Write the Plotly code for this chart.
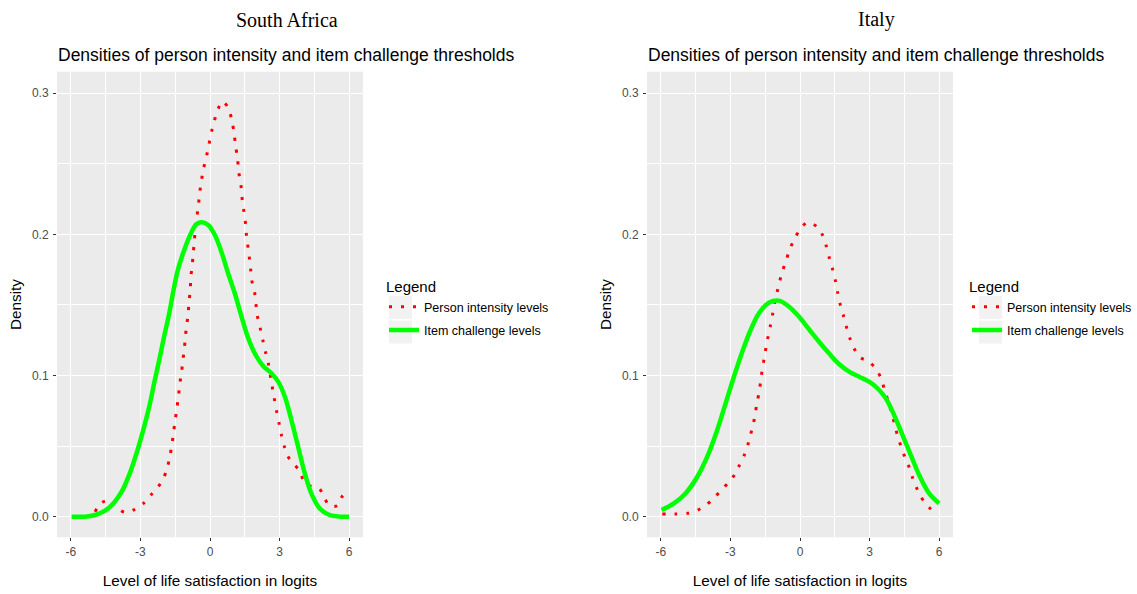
import plotly.graph_objects as go

# ---------------- data ----------------
sa_person_x = [-4.96, -4.68, -4.27, -4.0, -3.66, -3.24, -2.85, -2.55, -2.26, -2.02, -1.85, -1.73, -1.64, -1.57,
               -1.50, -1.43, -1.36, -1.30, -1.23, -1.17, -1.10, -1.06, -1.0, -0.94, -0.90, -0.85, -0.83, -0.77,
               -0.73, -0.68, -0.64, -0.57, -0.50, -0.44, -0.37, -0.28, -0.15, -0.05, 0.06, 0.18, 0.32, 0.54,
               0.81, 0.94, 1.04, 1.10, 1.19, 1.23, 1.33, 1.37, 1.44, 1.52, 1.56, 1.62, 1.69, 1.75, 1.80, 1.92,
               1.98, 2.04, 2.16, 2.28, 2.39, 2.51, 2.68, 2.77, 2.87, 2.98, 3.08, 3.20, 3.35, 3.61, 3.87, 4.04,
               4.35, 4.72, 4.92, 5.16, 5.49, 5.71, 5.98]
sa_person_y = [0.0035, 0.0099, 0.0118, 0.0064, 0.0030, 0.0052, 0.0097, 0.0154, 0.0206, 0.0267, 0.0343, 0.0428,
               0.0515, 0.0600, 0.0685, 0.0765, 0.0855, 0.0945, 0.1020, 0.1110, 0.1200, 0.1280, 0.1360, 0.1446,
               0.1530, 0.1610, 0.1700, 0.1770, 0.1860, 0.1940, 0.2030, 0.2120, 0.2207, 0.2300, 0.2380, 0.2466,
               0.2554, 0.2634, 0.2724, 0.2800, 0.2877, 0.2943, 0.2890, 0.2807, 0.2720, 0.2630, 0.2540, 0.2450,
               0.2360, 0.2275, 0.2188, 0.2100, 0.2015, 0.1935, 0.1845, 0.1758, 0.1675, 0.1595, 0.1510, 0.1425,
               0.1340, 0.1250, 0.1170, 0.1090, 0.0924, 0.0839, 0.0751, 0.0661, 0.0579, 0.0500, 0.0430, 0.0373,
               0.0326, 0.0255, 0.0215, 0.0198, 0.0139, 0.0076, 0.0078, 0.0146, 0.0200]

sa_item_x = [-5.97, -5.4, -4.96, -4.53, -4.17, -3.81, -3.46, -3.17, -2.88, -2.62, -2.41, -2.19, -1.98, -1.76,
             -1.59, -1.40, -1.10, -0.80, -0.58, -0.34, -0.08, 0.21, 0.49, 0.78, 1.07, 1.36, 1.65, 1.93, 2.29,
             2.65, 2.94, 3.23, 3.51, 3.80, 4.09, 4.37, 4.73, 5.16, 5.60, 6.0]
sa_item_y = [0.0, 0.0, 0.0012, 0.0043, 0.0094, 0.0177, 0.0307, 0.0449, 0.0614, 0.0780, 0.0945, 0.1110, 0.1276,
             0.1440, 0.1590, 0.1740, 0.1895, 0.2015, 0.2074, 0.2086, 0.2067, 0.1996, 0.1878, 0.1725, 0.1583,
             0.1417, 0.1264, 0.1158, 0.1068, 0.1016, 0.0957, 0.0850, 0.0685, 0.0496, 0.0307, 0.0165, 0.0059,
             0.0012, 0.0, 0.0]

it_person_x = [-5.94, -5.37, -4.86, -4.43, -4.09, -3.74, -3.42, -3.09, -2.82, -2.63, -2.42, -2.26, -2.13, -2.01,
               -1.93, -1.84, -1.74, -1.67, -1.58, -1.50, -1.40, -1.29, -1.19, -1.11, -0.99, -0.88, -0.75, -0.59,
               -0.43, -0.22, 0.03, 0.33, 0.75, 0.99, 1.14, 1.27, 1.41, 1.53, 1.63, 1.74, 1.88, 2.0, 2.14, 2.33,
               2.59, 3.01, 3.29, 3.50, 3.65, 3.81, 3.96, 4.09, 4.20, 4.36, 4.53, 4.71, 4.85, 5.02, 5.21, 5.47,
               5.78]
it_person_y = [0.0019, 0.0019, 0.0024, 0.0045, 0.0078, 0.0128, 0.0184, 0.0241, 0.0298, 0.0359, 0.0430, 0.0503,
               0.0583, 0.0659, 0.0735, 0.0817, 0.0907, 0.0997, 0.1087, 0.1167, 0.1257, 0.1344, 0.1427, 0.1505,
               0.1588, 0.1665, 0.1743, 0.1819, 0.1900, 0.1973, 0.2043, 0.2086, 0.2053, 0.1989, 0.1914, 0.1831,
               0.1751, 0.1670, 0.1583, 0.1500, 0.1422, 0.1347, 0.1269, 0.1193, 0.1129, 0.1094, 0.1044, 0.0980,
               0.0895, 0.0815, 0.0732, 0.0650, 0.0579, 0.0496, 0.0420, 0.0350, 0.0279, 0.0208, 0.0142, 0.0083,
               0.0033]

it_item_x = [-5.97, -5.44, -4.94, -4.43, -4.0, -3.57, -3.21, -2.85, -2.49, -2.13, -1.77, -1.34, -0.91, -0.47,
             -0.04, 0.39, 0.82, 1.25, 1.68, 2.12, 2.55, 2.98, 3.34, 3.70, 4.06, 4.42, 4.78, 5.14, 5.57, 6.0]
it_item_y = [0.0047, 0.0094, 0.0165, 0.0283, 0.0425, 0.0614, 0.0803, 0.0992, 0.1169, 0.1323, 0.1441, 0.1517,
             0.1531, 0.1488, 0.1417, 0.1328, 0.1240, 0.1158, 0.1082, 0.1028, 0.0992, 0.0957, 0.0910, 0.0839,
             0.0720, 0.0579, 0.0437, 0.0295, 0.0165, 0.0094]

x_ticks = [-6, -3, 0, 3, 6]
y_ticks = [0.0, 0.1, 0.2, 0.3]
panel_titles = ["South Africa", "Italy"]
subtitle = "Densities of person intensity and item challenge thresholds"
series_names = ["Person intensity levels", "Item challenge levels"]

# ---------------- figure ----------------
W, H = 1137, 594
SANS = "Liberation Sans, Arial, sans-serif"
SERIF = "Liberation Serif, Times New Roman, serif"
RED = "#FF0000"
GREEN = "#00FF00"

fig = go.Figure()

panels = [
    ("x", "y", "legend", sa_person_x, sa_person_y, sa_item_x, sa_item_y),
    ("x2", "y2", "legend2", it_person_x, it_person_y, it_item_x, it_item_y),
]
for xa, ya, lg, px, py, ix, iy in panels:
    fig.add_trace(go.Scatter(x=px, y=py, mode="lines", name=series_names[0], xaxis=xa, yaxis=ya,
                             legend=lg, legendgroup=lg + "a",
                             line=dict(color=RED, width=3, dash="3px,9px", shape="spline", smoothing=0.8),
                             hoverinfo="skip"))
    fig.add_trace(go.Scatter(x=ix, y=iy, mode="lines", name=series_names[1], xaxis=xa, yaxis=ya,
                             legend=lg, legendgroup=lg + "b",
                             line=dict(color=GREEN, width=4.5, shape="spline", smoothing=1.0),
                             hoverinfo="skip"))

x_domains = [[57 / W, 363 / W], [647 / W, 953 / W]]
y_domain = [1 - 537.3 / H, 1 - 71.7 / H]

axis_common = dict(
    showline=False, zeroline=False, showgrid=True, gridcolor="white", gridwidth=1.1,
    ticks="outside", ticklen=3, tickwidth=1, tickcolor="#333333",
    tickfont=dict(family=SANS, size=12, color="#4D4D4D"),
)

for i, (xa, ya) in enumerate([("xaxis", "yaxis"), ("xaxis2", "yaxis2")]):
    xname = "x" if i == 0 else "x2"
    yname = "y" if i == 0 else "y2"
    fig.layout[xa] = dict(
        axis_common, domain=x_domains[i], anchor=yname, range=[-6.6, 6.6],
        tickmode="array", tickvals=x_ticks, ticktext=[str(v) for v in x_ticks],
        minor=dict(tickvals=[-4.5, -1.5, 1.5, 4.5], showgrid=True, gridcolor="white", gridwidth=0.55, ticks=""),
        title=dict(text="Level of life satisfaction in logits", font=dict(family=SANS, size=15.3, color="black"),
                   standoff=17),
    )
    fig.layout[ya] = dict(
        axis_common, domain=y_domain, anchor=xname, range=[-0.0146, 0.3153],
        tickmode="array", tickvals=y_ticks, ticktext=["%.1f" % v for v in y_ticks],
        minor=dict(tickvals=[0.05, 0.15, 0.25], showgrid=True, gridcolor="white", gridwidth=0.55, ticks=""),
        title=dict(text="Density", font=dict(family=SANS, size=15.3, color="black"), standoff=6),
        ticklabelstandoff=2,
    )

legend_common = dict(
    title=dict(text="Legend", font=dict(family=SANS, size=15, color="black")),
    font=dict(family=SANS, size=12.5, color="black"),
    bgcolor="rgba(0,0,0,0)", yanchor="top", y=1 - 272.5 / H,
    tracegroupgap=4, itemwidth=30,
)
fig.update_layout(
    legend=dict(legend_common, x=384 / W, xanchor="left"),
    legend2=dict(legend_common, x=1.0, xanchor="right"),
)

# grey key backgrounds (ggplot legend.key)
shapes = []
for lx in (389, 979):
    for ky in (296, 320.5):
        shapes.append(dict(type="rect", xref="paper", yref="paper",
                           x0=lx / W, x1=(lx + 23) / W, y0=1 - (ky + 23) / H, y1=1 - ky / H,
                           fillcolor="#F2F2F2", line=dict(width=0), layer="below"))

annotations = []
for i, t in enumerate(panel_titles):
    cx = [287, 876][i]
    annotations.append(dict(text=t, x=cx / W, y=1 - 19.5 / H, xref="paper", yref="paper",
                            xanchor="center", yanchor="middle", showarrow=False,
                            font=dict(family=SERIF, size=20, color="black")))
    annotations.append(dict(text=subtitle, x=[56, 646][i] / W, y=1 - 55 / H, xref="paper", yref="paper",
                            xanchor="left", yanchor="middle", showarrow=False,
                            font=dict(family=SANS, size=17.5, color="black")))

fig.update_layout(
    width=W, height=H, margin=dict(l=0, r=0, t=0, b=0),
    paper_bgcolor="white", plot_bgcolor="#EBEBEB",
    annotations=annotations, shapes=shapes, showlegend=True,
)

fig.write_html("out.html", config={"displayModeBar": False},
               post_script="document.body.style.margin='0';document.body.style.overflow='hidden';")
